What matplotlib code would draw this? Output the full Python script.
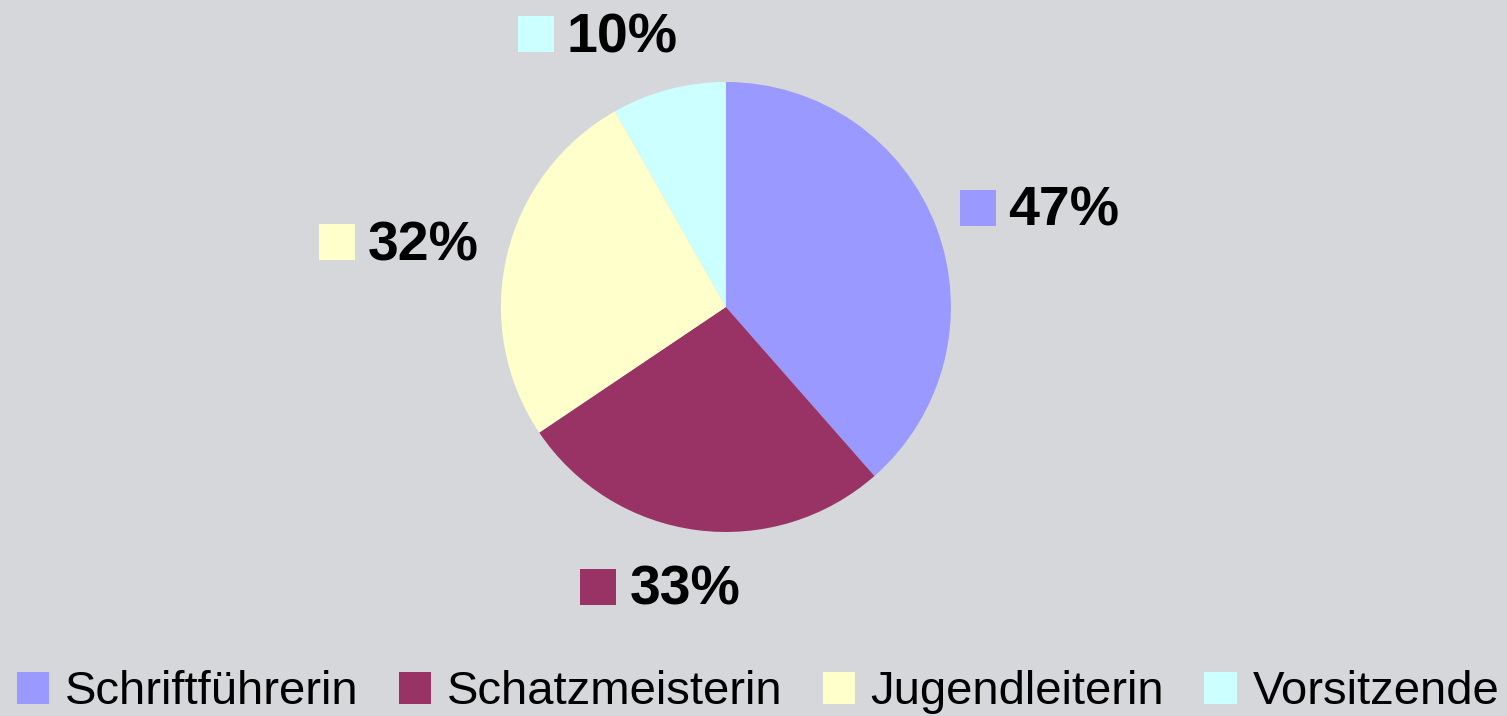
import numpy as np
import matplotlib
matplotlib.use("Agg")
import matplotlib.pyplot as plt
from matplotlib.patches import Rectangle

plt.rcParams['font.family'] = ['Liberation Sans', 'DejaVu Sans']

# data
categories = ["Schriftführerin", "Schatzmeisterin", "Jugendleiterin", "Vorsitzende"]
values = [47, 33, 32, 10]
colours = ["#9999ff", "#993366", "#ffffcc", "#ccffff"]
bg = "#d6d7db"

fig = plt.figure(figsize=(15.07, 7.16), dpi=100, facecolor=bg)
ax = fig.add_axes([0.3324, 0.257, 0.2986, 0.6285])
ax.set_facecolor(bg)

wedges, _ = ax.pie(values, colors=colours, startangle=90, counterclock=False,
                   wedgeprops=dict(linewidth=0))
ax.set_xlim(-1, 1)
ax.set_ylim(-1, 1)
ax.set_aspect("equal")
ax.axis("off")

# pixel sizes -> data units (radius 1 == 225 px)
px = 1 / 225.0
sq = 36 * px        # label square side
gap = 13 * px       # square to text
half_w = 82 * px    # half width of square + text

# percentage labels with a coloured square in front
for w, v, c in zip(wedges, values, colours):
    mid = np.deg2rad((w.theta1 + w.theta2) / 2)
    cx, cy = np.cos(mid), np.sin(mid)
    x = 1.11 * cx + half_w * np.sign(cx) * min(1.0, 3 * abs(cx))
    y = 1.253 * cy
    left = x - half_w
    ax.add_patch(Rectangle((left, y - sq / 2), sq, sq, facecolor=c,
                           edgecolor="none", clip_on=False))
    ax.text(left + sq + gap, y - sq / 2, "%d%%" % v, fontsize=40, fontweight="bold",
            color="black", ha="left", va="baseline", clip_on=False)

fig.legend(wedges, categories, loc="lower center", bbox_to_anchor=(0.503, -0.024),
           ncol=4, frameon=False, fontsize=34, handlelength=0.68, handleheight=0.68,
           handletextpad=0.34, columnspacing=0.85, borderaxespad=0)

fig.savefig("out.png", dpi=100, facecolor=bg)
